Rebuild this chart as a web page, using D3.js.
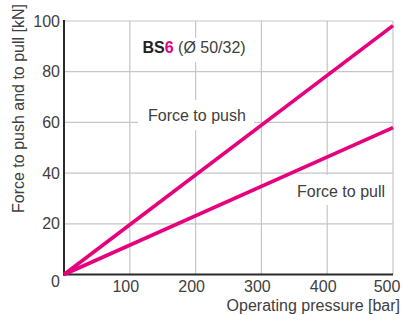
<!DOCTYPE html>
<html><head><meta charset="utf-8">
<script src="https://cdn.jsdelivr.net/npm/d3@7"></script>
<style>body{margin:0;background:#fff}svg{display:block}text{font-family:"Liberation Sans",Arial,sans-serif}</style>
</head><body><svg id="c" width="403" height="315"></svg>
<script>
const pressure = [0, 500];
const pushForce = [0, 98.2];
const pullForce = [0, 57.9];
const xTicks = [100, 200, 300, 400, 500];
const yTicks = [0, 20, 40, 60, 80, 100];
const xTitle = "Operating pressure [bar]";
const yTitle = "Force to push and to pull [kN]";

const svg = d3.select("#c");
const x = d3.scaleLinear().domain([0, 500]).range([64, 393]);
const y = d3.scaleLinear().domain([0, 100]).range([274.5, 21]);
const mag = "#e6007e", grid = "#c6c6c6", txt = "#404040";

// grid
svg.append("g").selectAll("line").data(yTicks.filter(d => d > 0)).join("line")
  .attr("x1", x(0)).attr("x2", x(500)).attr("y1", d => y(d)).attr("y2", d => y(d))
  .attr("stroke", grid).attr("stroke-width", 1.2);
svg.append("g").selectAll("line").data(xTicks).join("line")
  .attr("x1", d => x(d)).attr("x2", d => x(d)).attr("y1", y(0)).attr("y2", y(100))
  .attr("stroke", grid).attr("stroke-width", 1.2);

// label boxes (white masks over grid)
const boxes = [[133, 38, 120, 24], [138, 100, 116, 30], [288, 175, 103, 30]];
svg.append("g").selectAll("rect").data(boxes).join("rect")
  .attr("x", d => d[0]).attr("y", d => d[1]).attr("width", d => d[2]).attr("height", d => d[3])
  .attr("fill", "#fff");

// axes
svg.append("line").attr("x1", x(0)).attr("x2", x(0)).attr("y1", y(100) - 1).attr("y2", y(0) + 1)
  .attr("stroke", "#2a2a2a").attr("stroke-width", 2);
svg.append("line").attr("x1", x(0) - 1).attr("x2", x(500)).attr("y1", y(0)).attr("y2", y(0))
  .attr("stroke", "#2a2a2a").attr("stroke-width", 2);

// lines
const line = d3.line().x(d => x(d[0])).y(d => y(d[1]));
[pushForce, pullForce].forEach(s => {
  svg.append("path").datum(pressure.map((p, i) => [p, s[i]])).attr("d", line)
    .attr("fill", "none").attr("stroke", mag).attr("stroke-width", 3.6).attr("stroke-linecap", "butt");
});

// tick labels
svg.append("g").selectAll("text").data(yTicks).join("text")
  .attr("x", 60).attr("y", d => d === 0 ? 287 : y(d) + 5.5)
  .attr("text-anchor", "end").attr("font-size", 16).attr("fill", txt).text(d => d);
svg.append("g").selectAll("text").data(xTicks).join("text")
  .attr("x", d => x(d) + (d === 500 ? -6 : -4)).attr("y", 291.5)
  .attr("text-anchor", "middle").attr("font-size", 16).attr("fill", txt).text(d => d);

// axis titles
svg.append("text").attr("x", 400).attr("y", 311).attr("text-anchor", "end")
  .attr("font-size", 16).attr("fill", txt).text(xTitle);
svg.append("text").attr("transform", "translate(24,108.5) rotate(-90)").attr("text-anchor", "middle")
  .attr("font-size", 16).attr("fill", txt).text(yTitle);

// title
const t = svg.append("text").attr("x", 142.5).attr("y", 53).attr("font-size", 16).attr("fill", txt);
t.append("tspan").attr("font-weight", "bold").attr("fill", "#222").text("BS");
t.append("tspan").attr("font-weight", "bold").attr("fill", mag).text("6");
t.append("tspan").text(" (Ø 50/32)");

// series labels
svg.append("text").attr("x", 148).attr("y", 121).attr("font-size", 16).attr("fill", txt).text("Force to push");
svg.append("text").attr("x", 297).attr("y", 197).attr("font-size", 16).attr("fill", txt).text("Force to pull");
</script></body></html>
